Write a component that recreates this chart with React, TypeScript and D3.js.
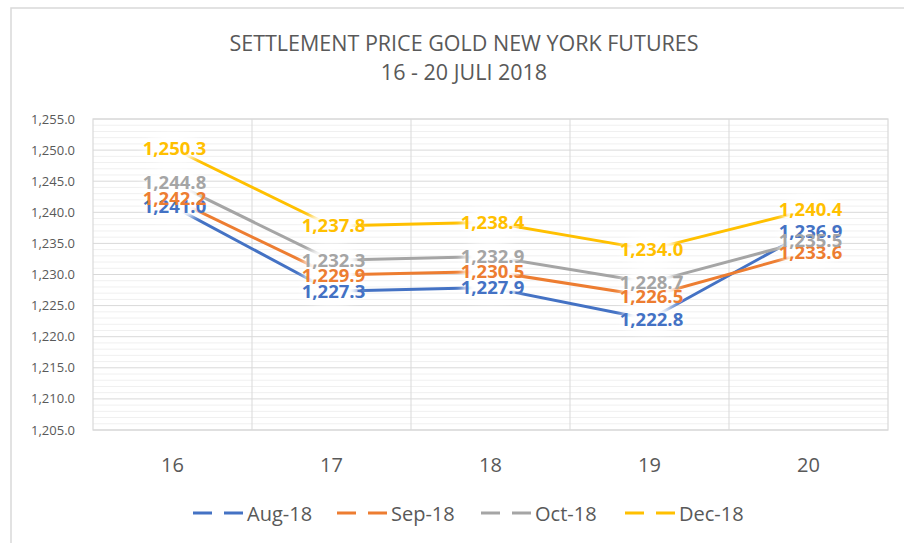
import * as d3 from "d3";
import React from "react";

const days = ["16", "17", "18", "19", "20"];
const seriesNames = ["Aug-18", "Sep-18", "Oct-18", "Dec-18"];
const seriesColors = ["#4472C4", "#ED7D31", "#A5A5A5", "#FFC000"];
const aug18 = [1241.0, 1227.3, 1227.9, 1222.8, 1236.9];
const sep18 = [1242.2, 1229.9, 1230.5, 1226.5, 1233.6];
const oct18 = [1244.8, 1232.3, 1232.9, 1228.7, 1235.5];
const dec18 = [1250.3, 1237.8, 1238.4, 1234.0, 1240.4];
const yTicks = [1205, 1210, 1215, 1220, 1225, 1230, 1235, 1240, 1245, 1250, 1255];
const titleLines = ["SETTLEMENT PRICE GOLD NEW YORK FUTURES", "16 - 20 JULI 2018"];

const W = 904;
const H = 543;
const plot = { left: 93, right: 888, top: 119, bottom: 430 };
const font = "'Open Sans', sans-serif";
const textGray = "#595959";

export default function App() {
  const series = [aug18, sep18, oct18, dec18];

  const x = d3.scaleBand().domain(days).range([plot.left, plot.right]);
  const y = d3.scaleLinear().domain([1205, 1255]).range([plot.bottom, plot.top]);
  const cx = (d: string) => (x(d) ?? 0) + x.bandwidth() / 2;

  const minorTicks = d3.range(1205, 1256, 1).filter((v) => v % 5 !== 0);
  const fmt = d3.format(",.1f");

  const line = d3
    .line<number>()
    .x((_, i) => cx(days[i]))
    .y((v) => y(v));

  // legend items laid out left to right
  const legendStart = 193;
  const legendStep = 144;

  return (
    <svg
      width={W}
      height={H}
      style={{ position: "absolute", left: 0, top: 0, display: "block", background: "#fff" }}
    >
      <defs>
        <filter id="halo" x="-50%" y="-50%" width="200%" height="200%">
          <feGaussianBlur stdDeviation="4" />
        </filter>
      </defs>
      <rect x={11} y={8} width={W + 10} height={H + 10} fill="#fff" stroke="#D9D9D9" strokeWidth={1.5} />

      {titleLines.map((t, i) => (
        <text key={t} x={464} y={51 + i * 29} textAnchor="middle" fontFamily={font} fontSize={21.5} fill={textGray}>
          {t}
        </text>
      ))}

      {/* gridlines */}
      <g>
        {minorTicks.map((v) => (
          <line key={"m" + v} x1={plot.left} x2={plot.right} y1={y(v)} y2={y(v)} stroke="#F0F0F0" strokeWidth={1} />
        ))}
        {yTicks.map((v) => (
          <line key={"M" + v} x1={plot.left} x2={plot.right} y1={y(v)} y2={y(v)} stroke="#D9D9D9" strokeWidth={1} />
        ))}
        {days.slice(1).map((d) => (
          <line key={"v" + d} x1={x(d)} x2={x(d)} y1={plot.top} y2={plot.bottom} stroke="#D9D9D9" strokeWidth={1} />
        ))}
        <rect
          x={plot.left}
          y={plot.top}
          width={plot.right - plot.left}
          height={plot.bottom - plot.top}
          fill="none"
          stroke="#D9D9D9"
          strokeWidth={1.2}
        />
      </g>

      {/* y axis labels */}
      {yTicks.map((v) => (
        <text key={v} x={75} y={y(v) + 4.5} textAnchor="end" fontFamily={font} fontSize={13} fill={textGray}>
          {fmt(v)}
        </text>
      ))}

      {/* x axis labels */}
      {days.map((d) => (
        <text key={d} x={cx(d)} y={472} textAnchor="middle" fontFamily={font} fontSize={20} fill={textGray}>
          {d}
        </text>
      ))}

      {/* series lines */}
      {series.map((s, si) => (
        <path key={si} d={line(s) ?? ""} fill="none" stroke={seriesColors[si]} strokeWidth={3} strokeLinejoin="round" />
      ))}

      {/* label halos, then label texts */}
      {series.map((s, si) =>
        s.map((v, i) => (
          <ellipse
            key={"h" + si + "-" + i}
            cx={cx(days[i])}
            cy={y(v)}
            rx={28}
            ry={14}
            fill="#fff"
            filter="url(#halo)"
          />
        ))
      )}
      {series.map((s, si) =>
        s.map((v, i) => (
          <text
            key={"t" + si + "-" + i}
            x={cx(days[i]) + 2}
            y={y(v) + 6.5}
            textAnchor="middle"
            fontFamily={font}
            fontWeight={700}
            fontSize={18.5}
            fill={seriesColors[si]}
          >
            {fmt(v)}
          </text>
        ))
      )}

      {/* legend */}
      {seriesNames.map((n, i) => {
        const lx = legendStart + i * legendStep;
        return (
          <g key={n}>
            <line
              x1={lx}
              x2={lx + 50}
              y1={513}
              y2={513}
              stroke={seriesColors[i]}
              strokeWidth={3}
              strokeDasharray="19 12"
            />
            <text x={lx + 54} y={521} fontFamily={font} fontSize={20} fill={textGray}>
              {n}
            </text>
          </g>
        );
      })}
    </svg>
  );
}
